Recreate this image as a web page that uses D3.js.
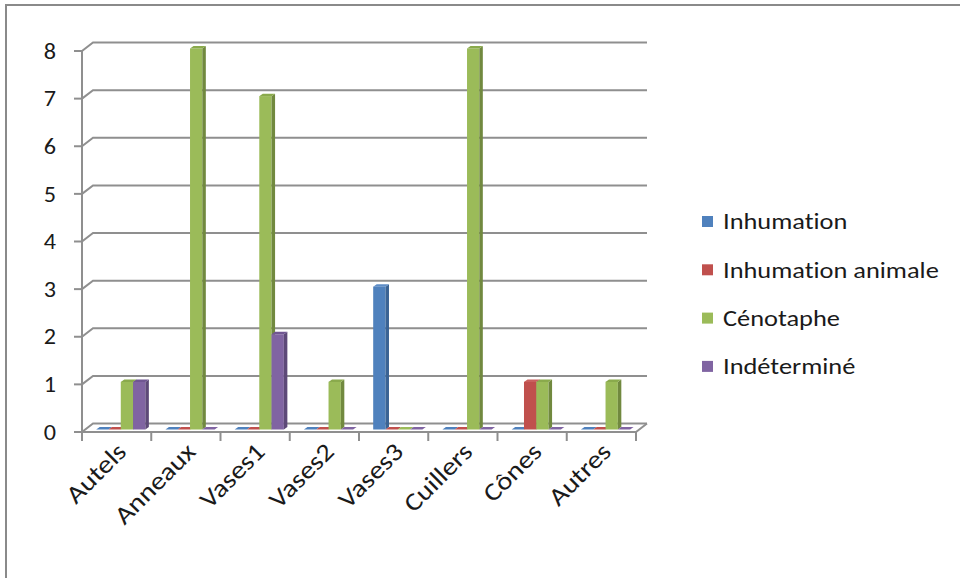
<!DOCTYPE html>
<html>
<head>
<meta charset="utf-8">
<script src="https://cdn.jsdelivr.net/npm/d3@7"></script>
<style>
  html, body { margin: 0; padding: 0; background: #fff; }
  svg { display: block; }
  text { font-family: Carlito, Calibri, Lato, "Noto Sans", sans-serif; fill: #1a1a1a;
         font-variant-ligatures: none; font-feature-settings: "liga" 0, "clig" 0; }
</style>
</head>
<body>
<svg id="chart" width="960" height="578"></svg>
<script>
const categories = ["Autels", "Anneaux", "Vases1", "Vases2", "Vases3", "Cuillers", "Cônes", "Autres"];
const seriesNames = ["Inhumation", "Inhumation animale", "Cénotaphe", "Indéterminé"];
const inhumation        = [0, 0, 0, 0, 3, 0, 0, 0];
const inhumationAnimale = [0, 0, 0, 0, 0, 0, 1, 0];
const cenotaphe         = [1, 8, 7, 1, 0, 8, 1, 1];
const indetermine       = [1, 0, 2, 0, 0, 0, 0, 0];
const yTicks = [0, 1, 2, 3, 4, 5, 6, 7, 8];

const seriesValues = [inhumation, inhumationAnimale, cenotaphe, indetermine];
const frontColors = ["#4F81BD", "#C0504D", "#9BBB59", "#8064A2"];
const sideColors  = ["#3A6394", "#943C3A", "#71893F", "#5D4978"];
const topColors   = ["#5E8DC6", "#C9615E", "#8AAA4C", "#705692"];

const svg = d3.select("#chart");

// outer frame
svg.append("rect").attr("x", 6).attr("y", 5).attr("width", 1000).attr("height", 600)
  .attr("fill", "none").attr("stroke", "#8a8a8a").attr("stroke-width", 2);

const axisX = 82, floorRight = 636;
const DX = 11, DY = -8.5;          // depth offset of back wall
const BDX = 3.5, BDY = -2.5;       // bar depth
const barShift = -2.5;             // bar plane vertical shift
const textStretch = 1.2;

const y = d3.scaleLinear().domain([0, 8]).range([432, 51]);
const x0 = d3.scaleBand().domain(categories).range([axisX, floorRight]);
const bw = x0.bandwidth();
const x1 = d3.scaleBand().domain(seriesNames).range([0.205 * bw, 0.915 * bw]);

const gridColor = "#8f8f8f";
const grid = svg.append("g").attr("fill", "none").attr("stroke", gridColor).attr("stroke-width", 2);

// gridlines (back wall) with diagonal connectors
yTicks.forEach(t => {
  const yy = y(t);
  grid.append("path").attr("d",
    `M${axisX},${yy}L${axisX + DX},${yy + DY}L${floorRight + DX},${yy + DY}`);
  grid.append("line").attr("x1", axisX - 8).attr("x2", axisX).attr("y1", yy).attr("y2", yy);
});
// vertical axis
grid.append("line").attr("x1", axisX).attr("x2", axisX).attr("y1", y(8)).attr("y2", y(0) + 9);
// floor front edge and right edge
grid.append("path").attr("d",
  `M${axisX},${y(0)}L${floorRight},${y(0)}L${floorRight + DX},${y(0) + DY}`);
// category ticks
const bounds = categories.map(c => x0(c)).concat([floorRight]);
bounds.forEach(bx => {
  grid.append("line").attr("x1", bx).attr("x2", bx).attr("y1", y(0)).attr("y2", y(0) + 9);
});

// y labels
svg.append("g").selectAll("text").data(yTicks).join("text")
  .attr("text-anchor", "end").attr("font-size", 22)
  .attr("transform", d => `translate(56,${y(d)}) scale(1.1,1)`)
  .attr("dy", "0.35em").text(d => d);

// bars
const bars = svg.append("g");
categories.forEach((c, ci) => {
  seriesNames.forEach((s, si) => {
    const v = seriesValues[si][ci];
    const xl = x0(c) + x1(s);
    const xr = xl + x1.bandwidth();
    const yb = y(0) + barShift;
    const yt = y(v) + barShift;
    if (v > 0) {
      bars.append("rect").attr("x", xl).attr("y", yt).attr("width", xr - xl).attr("height", yb - yt)
        .attr("fill", frontColors[si]);
      bars.append("path").attr("d",
        `M${xr},${yt}L${xr + BDX},${yt + BDY}L${xr + BDX},${yb + BDY}L${xr},${yb}Z`)
        .attr("fill", sideColors[si]);
    }
    bars.append("path").attr("d",
      `M${xl},${yt}L${xr},${yt}L${xr + BDX},${yt + BDY}L${xl + BDX},${yt + BDY}Z`)
      .attr("fill", v > 0 ? topColors[si] : frontColors[si]);
  });
});

// category labels
svg.append("g").selectAll("text").data(categories).join("text")
  .attr("text-anchor", "end").attr("font-size", 25)
  .attr("transform", d => `translate(${x0(d) + bw / 2 + 5},${447}) rotate(-45) scale(1.15,1)`)
  .attr("dy", "0.35em")
  .text(d => d);

// legend
const legend = svg.append("g");
seriesNames.forEach((s, i) => {
  const cy = 221.5 + i * 48.3;
  legend.append("rect").attr("x", 702).attr("y", cy - 5.5).attr("width", 11).attr("height", 11)
    .attr("fill", frontColors[i]);
  legend.append("text").attr("dy", "0.35em")
    .attr("transform", `translate(723,${cy}) scale(${textStretch},1)`)
    .attr("font-size", 22).text(s);
});
</script>
</body>
</html>
